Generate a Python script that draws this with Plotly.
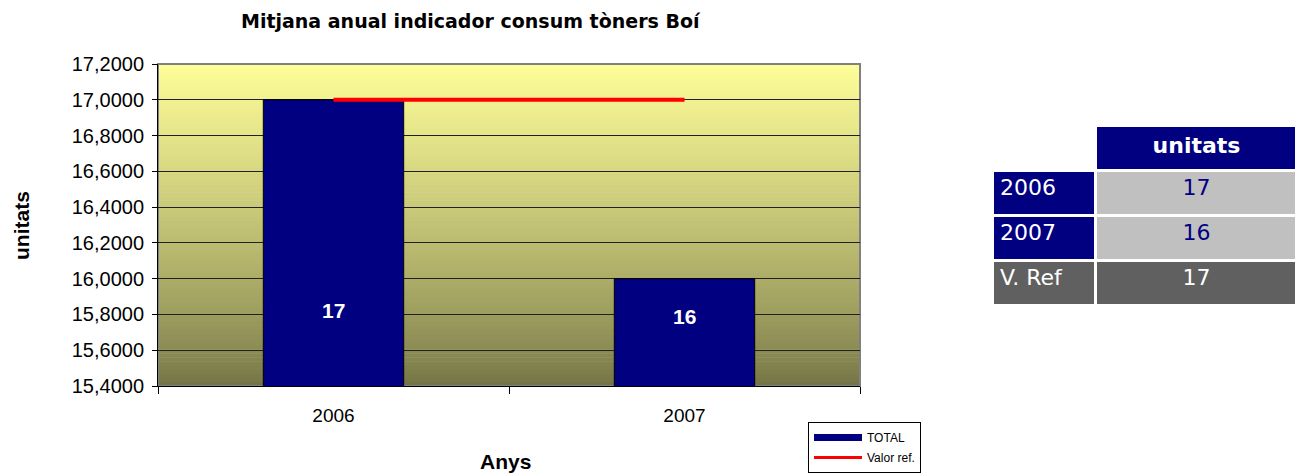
import plotly.graph_objects as go

W, H = 1303, 476
OFF = 8  # the page body margin shifts the figure by this many pixels

YEARS = ["2006", "2007"]
TOTAL = [17, 16]
REF = [17, 17]
TABLE_ROWS = ["2006", "2007", "V. Ref"]
TABLE_VALUES = ["17", "16", "17"]

NAVY = "#000080"
RED = "#FF0000"
TOP = (253, 253, 153)
BOTTOM = (116, 116, 70)

Y_MIN, Y_MAX = 15.4, 17.2


def px(x):
    return (x - OFF) / W


def py(y):
    return 1 - (y - OFF) / H


fig = go.Figure()

fig.add_trace(
    go.Bar(
        x=YEARS,
        y=TOTAL,
        name="TOTAL",
        width=0.4,
        showlegend=False,
        marker={"color": NAVY, "line": {"color": "#000000", "width": 1}},
    )
)
fig.add_trace(
    go.Scatter(
        x=YEARS,
        y=REF,
        name="Valor ref.",
        mode="lines",
        showlegend=False,
        line={"color": RED, "width": 4},
    )
)
# legend-only entries (wide swatches like the original)
fig.add_trace(
    go.Scatter(
        x=[None], y=[None], name="TOTAL", mode="lines", legendgroup="a",
        line={"color": NAVY, "width": 7},
    )
)
fig.add_trace(
    go.Scatter(
        x=[None], y=[None], name="Valor ref.", mode="lines", legendgroup="b",
        line={"color": RED, "width": 3},
    )
)

fig.add_trace(
    go.Table(
        domain={"x": [px(992), px(1298)], "y": [py(305), py(125)]},
        columnwidth=[103, 203],
        header={
            "values": ["", "<b>unitats</b>"],
            "fill": {"color": ["white", NAVY]},
            "font": {"family": "DejaVu Sans", "size": 22, "color": "white"},
            "align": ["left", "center"],
            "height": 45,
            "line": {"color": "white", "width": 3},
        },
        cells={
            "values": [TABLE_ROWS, TABLE_VALUES],
            "fill": {"color": [[NAVY, NAVY, "#606060"], ["#C0C0C0", "#C0C0C0", "#606060"]]},
            "font": {
                "family": "DejaVu Sans",
                "size": 22,
                "color": [["white"] * 3, [NAVY, NAVY, "white"]],
            },
            "align": ["left", "center"],
            "height": 45,
            "line": {"color": "white", "width": 3},
        },
    )
)

# gradient background of the plot area
shapes = []
n = 80
for i in range(n):
    t = (i / (n - 1)) ** 0.8
    c = tuple(round(BOTTOM[k] + (TOP[k] - BOTTOM[k]) * t) for k in range(3))
    shapes.append(
        {
            "type": "rect",
            "xref": "x domain",
            "yref": "y domain",
            "x0": 0,
            "x1": 1,
            "y0": i / n,
            "y1": (i + 1) / n + 0.002,
            "fillcolor": f"rgb{c}",
            "line": {"width": 0},
            "layer": "below",
        }
    )
shapes.append(
    {
        "type": "rect",
        "xref": "x domain",
        "yref": "y domain",
        "x0": 0,
        "x1": 1,
        "y0": 0,
        "y1": 1,
        "line": {"color": "#808080", "width": 2},
        "layer": "below",
    }
)

centered = {"xanchor": "center", "yanchor": "middle", "showarrow": False}
annotations = [
    {
        "text": "<b>Mitjana anual indicador consum tòners Boí</b>",
        "x": px(471),
        "y": py(21),
        "xref": "paper",
        "yref": "paper",
        "font": {"family": "DejaVu Sans", "size": 19, "color": "black"},
        **centered,
    },
    {
        "text": "<b>unitats</b>",
        "x": px(22),
        "y": py(226),
        "xref": "paper",
        "yref": "paper",
        "textangle": -90,
        "font": {"family": "Liberation Sans", "size": 21, "color": "black"},
        **centered,
    },
    {
        "text": "<b>Anys</b>",
        "x": px(505),
        "y": py(461),
        "xref": "paper",
        "yref": "paper",
        "font": {"family": "Liberation Sans", "size": 21, "color": "black"},
        **centered,
    },
]
# value labels sit low in the visible part of each bar
for i, (value, frac) in enumerate(zip(TOTAL, [0.236, 0.217])):
    annotations.append(
        {
            "text": f"<b>{value}</b>",
            "x": i,
            "y": Y_MIN + frac * (Y_MAX - Y_MIN),
            "xref": "x",
            "yref": "y",
            "font": {"family": "Liberation Sans", "size": 21, "color": "white"},
            **centered,
        }
    )

fig.update_layout(
    width=W,
    height=H,
    autosize=False,
    margin={"l": 0, "r": 0, "t": 0, "b": 0},
    paper_bgcolor="white",
    plot_bgcolor="rgba(0,0,0,0)",
    separators=",.",
    font={"family": "Liberation Sans", "size": 18, "color": "black"},
    showlegend=True,
    legend={
        "x": px(808),
        "y": py(422),
        "xanchor": "left",
        "yanchor": "top",
        "bgcolor": "white",
        "bordercolor": "black",
        "borderwidth": 1,
        "font": {"family": "Liberation Sans", "size": 12},
        "itemwidth": 48,
        "tracegroupgap": 1,
    },
    shapes=shapes,
    annotations=annotations,
)
fig.update_xaxes(
    domain=[px(158), px(860)],
    type="category",
    range=[-0.5, 1.5],
    tickson="boundaries",
    ticks="outside",
    ticklen=7,
    tickcolor="black",
    showline=True,
    linecolor="black",
    linewidth=1,
    showgrid=False,
    tickfont={"size": 19},
    ticklabelstandoff=12,
    automargin=False,
)
fig.update_yaxes(
    domain=[py(386), py(64)],
    range=[Y_MIN, Y_MAX],
    dtick=0.2,
    tick0=Y_MIN,
    tickformat=".4f",
    ticks="outside",
    ticklen=5,
    tickcolor="black",
    showline=True,
    linecolor="black",
    linewidth=1,
    showgrid=True,
    gridcolor="#202020",
    gridwidth=1,
    zeroline=False,
    tickfont={"size": 20},
    ticklabelstandoff=4,
    automargin=False,
)

fig.write_html("out.html")
